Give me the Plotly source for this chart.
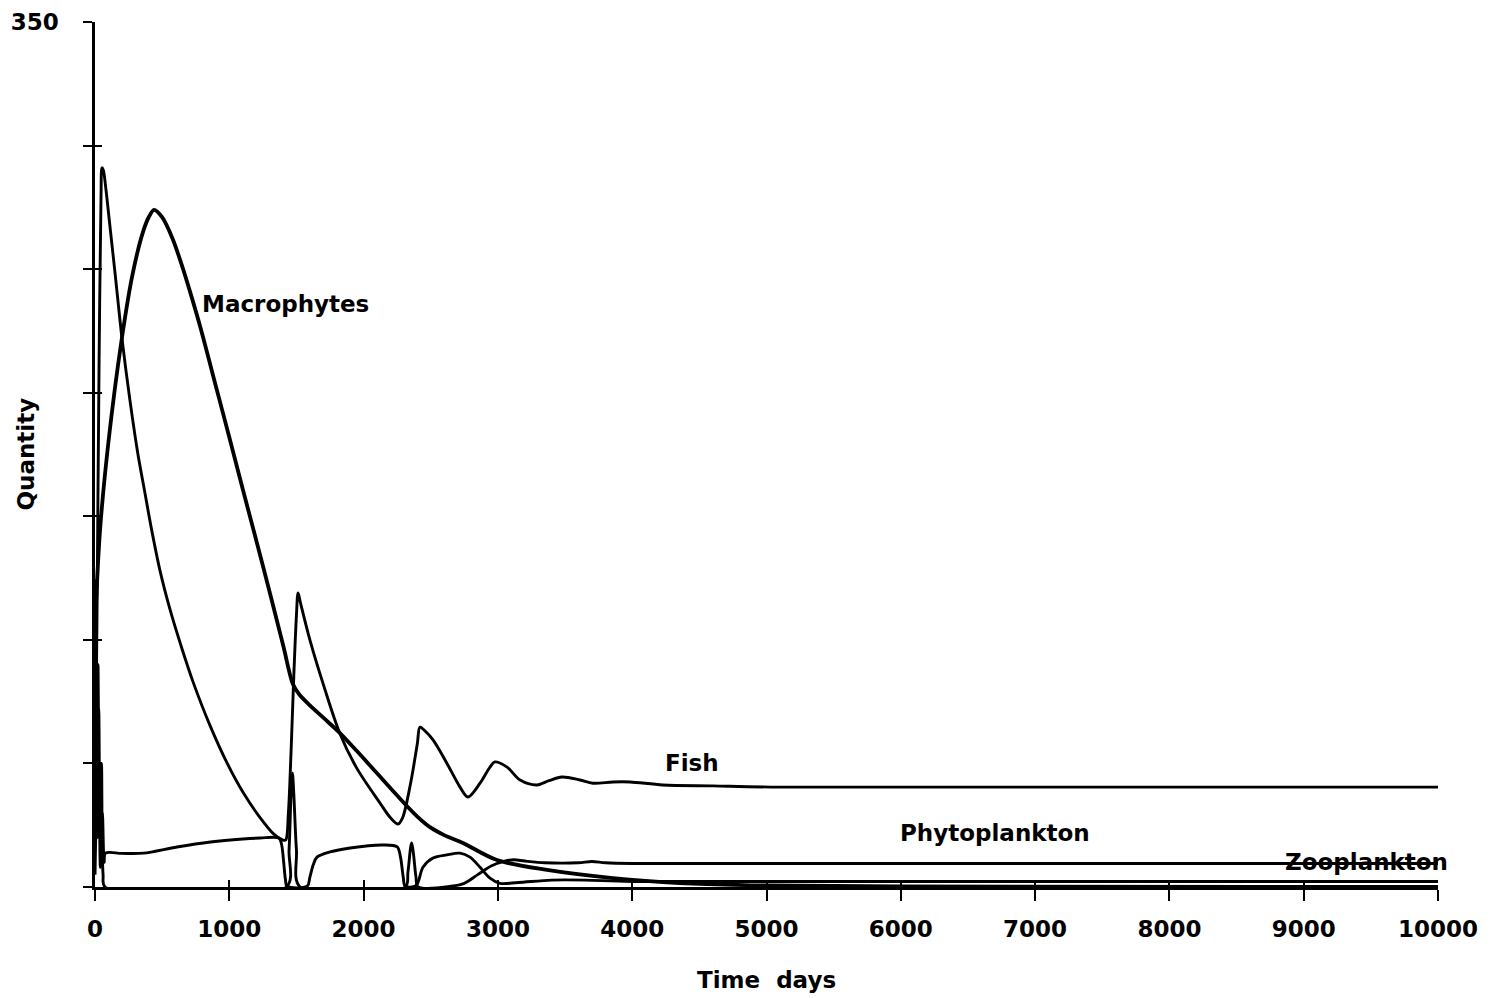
import plotly.graph_objects as go

# --- data (time in days, quantity) ---
macro_t = [0, 37, 100, 200, 280, 357, 400, 440, 500, 580, 650, 707, 782, 908, 1000, 1100, 1250,
           1400, 1474, 1520, 1600, 1700, 1824, 1950, 2100, 2250, 2400, 2500, 2600, 2740, 2993,
           3366, 3857, 4356, 5000, 6000, 10000]
macro_v = [105, 144, 180, 222, 248, 265, 271, 274, 271, 262, 251, 241, 227, 201, 182, 161, 130,
           98, 82, 78, 73.5, 68.5, 62.3, 55, 46, 37, 28.5, 24, 21, 17.8, 10.9,
           6.9, 3.6, 1.6, 0.6, 0.2, 0]

fish_t = [0, 15, 30, 45, 52, 62, 80, 110, 150, 201, 260, 320, 370, 420, 484, 560, 650, 730,
          856, 983, 1102, 1229, 1330, 1400, 1420, 1440, 1460, 1480, 1500, 1512, 1530, 1600,
          1700, 1824, 1950, 2122, 2200, 2256, 2290, 2350, 2400, 2420, 2460, 2517, 2621, 2718,
          2777, 2867, 2941, 2978, 3068, 3165, 3291, 3380, 3477, 3611, 3708, 3857, 3984, 4229,
          4602, 5100, 10000]
fish_v = [30, 110, 210, 280, 291, 290, 283, 268, 248, 222, 197, 175, 160, 145, 128, 112, 96, 83,
          65.4, 50.2, 38.3, 28.1, 21.5, 19, 19, 30, 55, 85, 110, 119, 115, 100,
          82, 62, 48, 34, 28, 25.5, 28, 42, 58, 64.7, 63, 59.5, 50, 40.4,
          36.4, 42, 48.5, 50.6, 48.5, 43.3, 41.3, 43, 44.5, 43.3, 42, 42.5, 42.5, 41.3,
          40.9, 40.4, 40.4]

phyto_t = [0, 8, 18, 28, 40, 55, 68, 78, 200, 360, 610, 860, 1100, 1230, 1370, 1390, 1405, 1418,
           1430, 1580, 1600, 1625, 1653, 1750, 1900, 2145, 2250, 2275, 2295, 2310, 2390, 2442,
           2517, 2620, 2718, 2792, 2867, 2941, 3015, 3150, 3400, 3650, 4000, 10000]
phyto_v = [50, 124, 20, 72, 8, 30, 10, 13.7, 13.6, 13.7, 16.2, 18.2, 19.4, 19.8, 19.8, 17, 10, 3,
           0.3, 0.3, 4, 9, 12.1, 14.2, 15.8, 17, 16.2, 12, 4, 0.3, 0.5, 8,
           11.7, 13, 13.7, 12.1, 8, 3.6, 1.5, 1.8, 2.8, 2.8, 2.2, 2.2]

zoo_t = [0, 12, 22, 33, 48, 60, 75, 1425, 1445, 1460, 1470, 1480, 1500, 1527, 2310, 2330, 2350,
         2358, 2370, 2390, 2405, 2650, 2750, 2850, 2950, 3050, 3120, 3200, 3350, 3600, 3700,
         3800, 4000, 10000]
zoo_v = [5, 40, 90, 20, 50, 5, 0, 0, 15, 38, 46, 38, 15, 0, 0, 6, 16,
         17.8, 14, 4, 0, 0.3, 1.5, 5, 8.5, 10.5, 11, 10.5, 9.8, 9.8, 10.3,
         9.8, 9.5, 9.5]

x_ticks = list(range(0, 10001, 1000))
x_tick_labels = [str(v) for v in x_ticks]
y_ticks = list(range(0, 351, 50))
y_tick_labels = ["", "", "", "", "", "", "", "350"]

FONT = "DejaVu Sans"

fig = go.Figure()
series = [
    ("Macrophytes", macro_t, macro_v, 3.8),
    ("Fish", fish_t, fish_v, 2.9),
    ("Phytoplankton", phyto_t, phyto_v, 2.9),
    ("Zooplankton", zoo_t, zoo_v, 2.9),
]
for name, t, v, w in series:
    fig.add_trace(go.Scatter(x=t, y=v, mode="lines", name=name,
                             line=dict(color="black", width=w, shape="spline", smoothing=0.9)))

# overlay axes only to get the inward half of the crossing ticks
fig.add_trace(go.Scatter(x=[], y=[], xaxis="x2", yaxis="y2", showlegend=False))

tickfont = dict(family=FONT, size=23, color="black", weight="bold")
# page body has an 8px margin, so the figure is a bit smaller than the window
fig.update_layout(
    width=1486, height=990,
    margin=dict(l=87, r=56, t=14, b=111),
    plot_bgcolor="white", paper_bgcolor="white",
    showlegend=False,
    xaxis=dict(range=[0, 10000], tickvals=x_ticks, ticktext=x_tick_labels,
               ticks="outside", ticklen=11, tickwidth=2, tickcolor="black",
               showline=True, linecolor="black", linewidth=2.5, automargin=False,
               showgrid=False, zeroline=False, tickfont=tickfont, ticklabelstandoff=9),
    yaxis=dict(range=[0, 350], tickvals=y_ticks, ticktext=y_tick_labels,
               ticks="outside", ticklen=9, tickwidth=2, tickcolor="black",
               showline=True, linecolor="black", linewidth=2.5, automargin=False,
               showgrid=False, zeroline=False, tickfont=tickfont, ticklabelstandoff=20),
    xaxis2=dict(range=[0, 10000], overlaying="x", anchor="y", side="bottom",
                tickvals=x_ticks, ticks="inside", ticklen=7, tickwidth=2, tickcolor="black",
                showticklabels=False, showline=False, showgrid=False, zeroline=False,
                automargin=False),
    yaxis2=dict(range=[0, 350], overlaying="y", anchor="x", side="left",
                tickvals=y_ticks, ticks="inside", ticklen=7, tickwidth=2, tickcolor="black",
                showticklabels=False, showline=False, showgrid=False, zeroline=False,
                automargin=False),
)

lab = dict(family=FONT, size=23, color="black", weight="bold")
fig.add_annotation(x=1415, y=236, text="Macrophytes", showarrow=False, font=lab)
fig.add_annotation(x=4445, y=50.2, text="Fish", showarrow=False, font=lab)
fig.add_annotation(x=6701, y=21.8, text="Phytoplankton", showarrow=False, font=lab)
fig.add_annotation(x=9464, y=10.1, text="Zooplankton", showarrow=False, font=lab)

title_font = dict(family=FONT, size=23, color="black", weight="bold")
fig.add_annotation(x=0, y=0.5, xref="paper", yref="paper", xshift=-70, textangle=-90,
                   xanchor="center", yanchor="middle",
                   text="Quantity", showarrow=False, font=title_font)
fig.add_annotation(x=0.5, y=0, xref="paper", yref="paper", yshift=-93,
                   xanchor="center", yanchor="middle",
                   text="Time\u00a0\u00a0days", showarrow=False, font=title_font)

fig.write_html("out.html")
